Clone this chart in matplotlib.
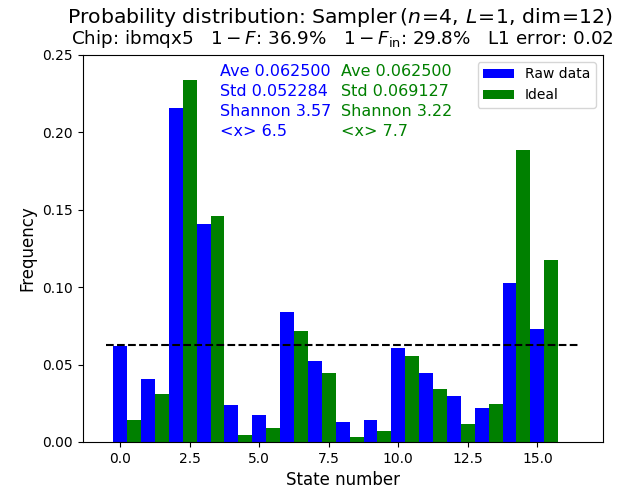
import numpy as np
import matplotlib
matplotlib.use("Agg")
import matplotlib.pyplot as plt

states = np.arange(16)
raw = [0.0622, 0.0407, 0.2158, 0.1408, 0.0239, 0.0174, 0.0840, 0.0523,
       0.0129, 0.0142, 0.0607, 0.0446, 0.0297, 0.0220, 0.1027, 0.0730]
ideal = [0.0142, 0.0310, 0.2339, 0.1460, 0.0045, 0.0090, 0.0716, 0.0446,
         0.0032, 0.0071, 0.0555, 0.0342, 0.0116, 0.0245, 0.1886, 0.1176]
uniform = 1 / 16

raw_stats = ["Ave 0.062500", "Std 0.052284", "Shannon 3.57", "<x> 6.5"]
ideal_stats = ["Ave 0.062500", "Std 0.069127", "Shannon 3.22", "<x> 7.7"]

fig = plt.figure(figsize=(6.37, 4.91), dpi=100)
ax = fig.add_axes([0.1298, 0.0998, 0.8163, 0.7882])

ax.bar(states, raw, width=0.5, color="blue", label="Raw data")
ax.bar(states + 0.5, ideal, width=0.5, color="green", label="Ideal")
ax.plot([-0.5, 16.5], [uniform, uniform], "k--", lw=1.5)

ax.set_ylim(0, 0.25)
ax.set_xlabel("State number", fontsize=12)
ax.set_ylabel("Frequency", fontsize=12)
ax.legend(loc="upper right", fontsize=10, handlelength=2.2)

# stats blocks, one line at a time (baselines 20 px apart)
for i, (r, g) in enumerate(zip(raw_stats, ideal_stats)):
    y = (366 - 20 * i) / 387
    ax.text(0.264, y, r, color="blue", fontsize=11.5,
            transform=ax.transAxes, va="baseline", ha="left")
    ax.text(0.497, y, g, color="green", fontsize=11.5,
            transform=ax.transAxes, va="baseline", ha="left")

fig.text(0.534, 1 - 23 / 491,
         r"Probability distribution: Sampler$\,(n\!=\!4,\,L\!=\!1,\,\mathrm{dim}\!=\!12)$",
         ha="center", va="baseline", fontsize=14.7)
fig.text(0.537, 1 - 44 / 491,
         r"Chip: ibmqx5   $1-F$: 36.9%   $1-F_{\rm in}$: 29.8%   L1 error: 0.02",
         ha="center", va="baseline", fontsize=13.2)

fig.savefig("out.png", dpi=100)
